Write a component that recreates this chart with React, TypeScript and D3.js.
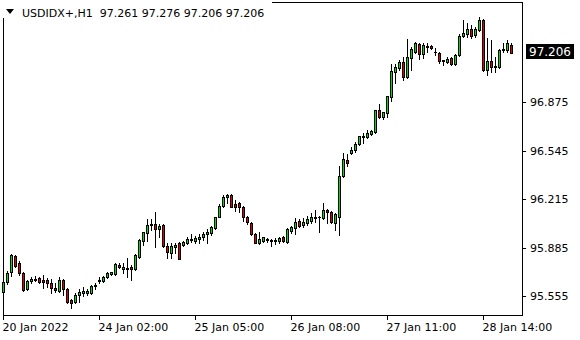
import React from "react";
import * as d3 from "d3";

const open = [95.582,95.650,95.718,95.827,95.780,95.711,95.603,95.657,95.664,95.677,95.664,95.664,95.643,95.609,95.589,95.664,95.603,95.528,95.514,95.562,95.575,95.575,95.575,95.623,95.657,95.657,95.684,95.705,95.705,95.766,95.739,95.739,95.752,95.739,95.820,95.929,95.984,96.038,96.045,96.011,96.038,95.895,95.848,95.888,95.916,95.902,95.916,95.933,95.929,95.943,95.956,95.977,95.984,96.018,96.092,96.167,96.228,96.242,96.181,96.188,96.160,96.092,96.052,95.977,95.916,95.929,95.936,95.929,95.929,95.929,95.956,95.922,95.997,96.018,96.065,96.038,96.052,96.065,96.092,96.092,96.086,96.140,96.126,96.052,96.092,96.371,96.480,96.528,96.548,96.589,96.640,96.637,96.657,96.671,96.820,96.773,96.800,96.909,97.079,97.106,97.147,97.045,97.174,97.215,97.269,97.201,97.256,97.256,97.218,97.208,97.160,97.147,97.174,97.133,97.194,97.324,97.337,97.371,97.331,97.365,97.433,97.092,97.154,97.120,97.113,97.228,97.228,97.261];
const high = [95.684,95.725,95.841,95.834,95.793,95.718,95.664,95.684,95.691,95.684,95.698,95.677,95.671,95.643,95.684,95.671,95.609,95.535,95.575,95.603,95.616,95.603,95.630,95.643,95.684,95.691,95.718,95.718,95.780,95.780,95.780,95.814,95.766,95.841,95.943,95.990,96.079,96.079,96.126,96.045,96.045,95.916,95.916,95.916,95.920,95.929,95.956,95.977,95.963,95.977,95.990,96.011,96.031,96.092,96.181,96.242,96.249,96.249,96.208,96.192,96.167,96.099,96.058,95.984,95.990,95.956,95.950,95.943,95.950,95.956,95.960,96.018,96.031,96.086,96.079,96.086,96.099,96.120,96.140,96.099,96.188,96.147,96.133,96.120,96.439,96.528,96.521,96.569,96.603,96.643,96.664,96.684,96.684,96.820,96.861,96.807,96.916,97.133,97.133,97.160,97.181,97.303,97.249,97.283,97.276,97.276,97.276,97.262,97.242,97.215,97.163,97.181,97.181,97.201,97.337,97.433,97.412,97.399,97.385,97.453,97.437,97.310,97.297,97.181,97.235,97.276,97.297,97.276];
const low = [95.575,95.637,95.691,95.752,95.698,95.589,95.596,95.643,95.657,95.643,95.609,95.616,95.575,95.582,95.582,95.562,95.507,95.473,95.507,95.514,95.555,95.562,95.569,95.603,95.643,95.650,95.677,95.698,95.698,95.746,95.711,95.684,95.664,95.732,95.814,95.902,95.929,96.004,95.888,95.956,95.888,95.814,95.814,95.848,95.807,95.895,95.909,95.922,95.916,95.916,95.936,95.916,95.970,96.011,96.092,96.160,96.188,96.160,96.133,96.126,96.065,96.045,95.970,95.916,95.912,95.922,95.922,95.895,95.909,95.916,95.922,95.918,95.984,95.977,96.024,96.024,96.038,96.052,96.058,95.990,96.079,96.052,96.052,96.004,95.970,96.365,96.439,96.521,96.535,96.582,96.596,96.633,96.650,96.664,96.766,96.759,96.773,96.882,97.004,97.092,97.024,97.038,97.092,97.208,97.167,97.174,97.215,97.235,97.194,97.140,97.126,97.140,97.126,97.130,97.188,97.317,97.317,97.310,97.317,97.358,97.088,97.058,97.079,97.079,97.106,97.215,97.215,97.206];
const close = [95.650,95.711,95.834,95.759,95.711,95.596,95.657,95.671,95.674,95.650,95.650,95.643,95.609,95.596,95.664,95.603,95.514,95.507,95.562,95.582,95.589,95.589,95.623,95.630,95.664,95.684,95.711,95.718,95.773,95.752,95.752,95.746,95.739,95.834,95.936,95.990,96.038,96.045,96.011,96.031,95.895,95.854,95.895,95.905,95.807,95.922,95.943,95.943,95.950,95.956,95.977,95.990,96.024,96.092,96.167,96.228,96.242,96.160,96.160,96.160,96.092,96.058,95.977,95.916,95.943,95.956,95.943,95.936,95.936,95.950,95.929,96.011,96.024,96.058,96.031,96.058,96.079,96.092,96.089,96.094,96.140,96.126,96.058,96.113,96.371,96.487,96.460,96.548,96.589,96.643,96.643,96.664,96.677,96.820,96.773,96.807,96.916,97.086,97.113,97.147,97.045,97.181,97.235,97.276,97.201,97.262,97.252,97.245,97.215,97.154,97.154,97.167,97.133,97.194,97.324,97.344,97.371,97.324,97.371,97.433,97.092,97.154,97.113,97.116,97.228,97.235,97.276,97.206];

const yTicks = [95.555, 95.885, 96.215, 96.545, 96.875];
const xTickIdx = [0, 24, 48, 72, 96, 120];
const xTickLabels = ["20 Jan 2022", "24 Jan 02:00", "25 Jan 05:00", "26 Jan 08:00", "27 Jan 11:00", "28 Jan 14:00"];
const symbol = "USDIDX+,H1";

const BULL = "#00e000";
const BEAR = "#e00000";
const FONT = "DejaVu Sans, Verdana, sans-serif";

export default function App() {
  const W = 580, H = 340;
  const left = 3, right = 522, top = 2, bottom = 315;
  const x = d3.scaleLinear().domain([0, 1]).range([3, 7]);
  const y = d3.scaleLinear().domain([95.555, 96.875]).range([296, 102]);
  const last = close.length - 1;
  const lastY = y(close[last]);
  const header = `${symbol}  ${open[last].toFixed(3)} ${high[last].toFixed(3)} ${low[last].toFixed(3)} ${close[last].toFixed(3)}`;

  return (
    <svg width={W} height={H} style={{ position: "absolute", left: 0, top: 0, background: "#fff" }}>
      <rect x={0} y={0} width={W} height={H} fill="#fff" />
      <g shapeRendering="crispEdges">
        <rect x={left + 0.5} y={top + 0.5} width={right - left} height={bottom - top} fill="none" stroke="#000" />
        {close.map((c, i) => {
          const cx = x(i);
          const o = open[i];
          const yo = Math.round(y(o));
          const yc = Math.round(y(c));
          const yh = Math.round(y(high[i]));
          const yl = Math.round(y(low[i]));
          const t = Math.min(yo, yc);
          const b = Math.max(yo, yc);
          const col = c >= o ? BULL : BEAR;
          return (
            <g key={i}>
              <line x1={cx + 0.5} x2={cx + 0.5} y1={yh} y2={yl + 1} stroke="#000" />
              {b - t <= 1 ? (
                <rect x={cx - 1} y={t} width={3} height={b - t + 1} fill="#000" />
              ) : (
                <rect x={cx - 0.5} y={t + 0.5} width={2} height={b - t} fill={col} stroke="#000" />
              )}
            </g>
          );
        })}
        {yTicks.map((v) => (
          <line key={v} x1={right + 1} x2={right + 4} y1={Math.round(y(v)) + 0.5} y2={Math.round(y(v)) + 0.5} stroke="#000" />
        ))}
        {xTickIdx.map((idx) => (
          <line key={idx} x1={x(idx) + 0.5} x2={x(idx) + 0.5} y1={bottom + 1} y2={bottom + 5} stroke="#000" />
        ))}
        <rect x={0} y={0} width={272} height={18} fill="#fff" />
        <rect x={526} y={Math.round(lastY) - 9} width={48} height={15} fill="#000" />
      </g>
      <path d="M6,9 L14,9 L10,14 Z" fill="#000" />
      <text x={22} y={16.5} fontFamily={FONT} fontSize={11} fill="#000" style={{ whiteSpace: "pre" }}>{header}</text>
      {yTicks.map((v) => (
        <text key={v} x={530} y={y(v) + 4} fontFamily={FONT} fontSize={11} fill="#000">{v.toFixed(3)}</text>
      ))}
      {xTickIdx.map((idx, k) => (
        <text key={idx} x={x(idx) - 0.5} y={331} fontFamily={FONT} fontSize={11} fill="#000">{xTickLabels[k]}</text>
      ))}
      <text x={529} y={Math.round(lastY) + 2.5} fontFamily={FONT} fontSize={12} fill="#fff">{close[last].toFixed(3)}</text>
    </svg>
  );
}
